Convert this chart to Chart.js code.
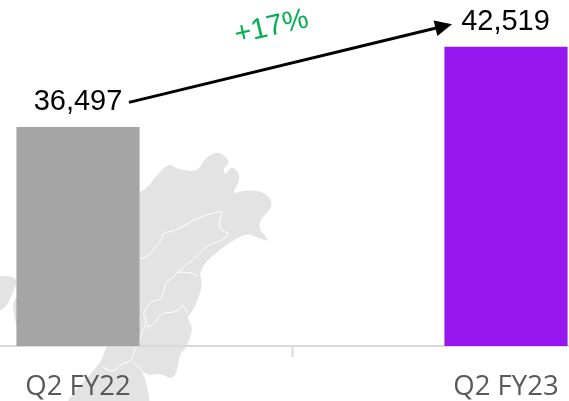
<!DOCTYPE html>
<html>
<head>
<meta charset="utf-8">
<title>Q2 FY22 vs Q2 FY23</title>
<script src="https://cdn.jsdelivr.net/npm/chart.js@4"></script>
<style>
  html, body { margin: 0; padding: 0; background: #fff; }
  #wrap { position: relative; width: 569px; height: 401px; overflow: hidden; }
  /* the plot is wider and taller than the window, the bars sit near its edges */
  #myChart { position: absolute; left: -136px; top: 0; }
</style>
</head>
<body>
<div id="wrap"><canvas id="myChart" width="856" height="418"></canvas></div>
<script>
const categories = ['Q2 FY22', 'Q2 FY23'];
const values = [36497, 42519];
const barColors = ['#a5a5a5', '#9617f0'];
const growthLabel = '+17%';
const canvasShift = 136;

// background map, only decoration behind the bars (window pixels)
const mapShapes = [
  [[120,190],[139,194],[150,185],[155,177],[169,163],[177,169],[198,172],[203,160],[218,150],[231,162],[223,168],[225,176],[232,165],[242,177],[231,195],[243,190],[264,191],[275,205],[255,225],[271,242],[258,238],[247,233],[230,242],[207,260],[199,273],[203,285],[193,312],[186,317],[194,328],[185,350],[180,353],[175,381],[160,373],[148,376],[135,367],[145,373],[153,420],[60,420],[68,398],[102,362],[105,347],[120,340]],
  [[-12,276],[19,276],[13,293],[5,310],[-12,312]],
  [[19,296],[12,302],[15,320],[19,335]]
];
const mapLines = [
  [[139,259],[148,257],[155,247],[162,240],[163,232],[173,232],[197,218],[220,211],[223,213],[218,223],[222,232],[228,232],[228,236],[220,242],[210,243],[187,265],[177,272],[173,278],[169,280],[165,283],[162,300],[153,300],[142,313],[147,320],[145,327],[140,337],[139,346]],
  [[177,272],[192,272],[198,277]],
  [[147,327],[155,325],[160,313],[178,312],[182,305],[185,307],[187,313]],
  [[135,347],[133,362],[123,362],[113,373],[103,367]],
  [[133,362],[145,373]]
];

// rounds the corners a little, the map has no straight edges
function tracePath(ctx, pts, closed) {
  ctx.beginPath();
  const n = pts.length;
  if (closed) {
    ctx.moveTo((pts[n - 1][0] + pts[0][0]) / 2, (pts[n - 1][1] + pts[0][1]) / 2);
    pts.forEach((p, i) => {
      const q = pts[(i + 1) % n];
      ctx.quadraticCurveTo(p[0], p[1], (p[0] + q[0]) / 2, (p[1] + q[1]) / 2);
    });
    ctx.closePath();
  } else {
    ctx.moveTo(pts[0][0], pts[0][1]);
    for (let i = 1; i < n - 1; i++) {
      ctx.quadraticCurveTo(pts[i][0], pts[i][1], (pts[i][0] + pts[i + 1][0]) / 2, (pts[i][1] + pts[i + 1][1]) / 2);
    }
    ctx.lineTo(pts[n - 1][0], pts[n - 1][1]);
  }
}

const mapPlugin = {
  id: 'mapBackground',
  beforeDraw(chart) {
    const ctx = chart.ctx;
    ctx.save();
    ctx.translate(canvasShift, 0);
    ctx.fillStyle = '#e3e3e3';
    mapShapes.forEach(s => { tracePath(ctx, s, true); ctx.fill(); });
    ctx.strokeStyle = '#ffffff';
    ctx.lineWidth = 1;
    ctx.lineJoin = 'round';
    mapLines.forEach(l => { tracePath(ctx, l, false); ctx.stroke(); });
    ctx.restore();
  }
};

const annotationPlugin = {
  id: 'annotations',
  afterDatasetsDraw(chart) {
    const ctx = chart.ctx;
    const bars = chart.getDatasetMeta(0).data;
    ctx.save();

    // value labels
    ctx.fillStyle = '#000';
    ctx.font = '29px "Liberation Sans"';
    ctx.textAlign = 'center';
    ctx.textBaseline = 'alphabetic';
    bars.forEach((bar, i) => {
      ctx.fillText(values[i].toLocaleString('en-US'), bar.x - (i ? 0.5 : 0), bar.y - 17);
    });

    // growth arrow
    const x1 = bars[0].x + 51, y1 = bars[0].y - 25;
    const x2 = bars[1].x - 54, y2 = bars[1].y - 23;
    const angle = Math.atan2(y2 - y1, x2 - x1);
    ctx.strokeStyle = '#000';
    ctx.lineWidth = 3;
    ctx.beginPath();
    ctx.moveTo(x1, y1);
    ctx.lineTo(x2 - 12 * Math.cos(angle), y2 - 12 * Math.sin(angle));
    ctx.stroke();
    ctx.translate(x2, y2);
    ctx.rotate(angle);
    ctx.beginPath();
    ctx.moveTo(0, 0);
    ctx.lineTo(-17, -8);
    ctx.lineTo(-17, 8);
    ctx.closePath();
    ctx.fillStyle = '#000';
    ctx.fill();
    ctx.restore();

    // growth label
    ctx.save();
    ctx.translate((x1 + x2) / 2 - 19, (y1 + y2) / 2 - 36);
    ctx.rotate(-13 * Math.PI / 180);
    ctx.fillStyle = '#00b050';
    ctx.font = '29px "Liberation Sans"';
    ctx.textAlign = 'center';
    ctx.textBaseline = 'middle';
    ctx.fillText(growthLabel, 0, 0);
    ctx.restore();
  }
};

document.addEventListener('DOMContentLoaded', function() {
  const ctx = document.getElementById('myChart').getContext('2d');
  new Chart(ctx, {
    type: 'bar',
    data: {
      labels: categories,
      datasets: [{
        data: values,
        backgroundColor: barColors,
        borderWidth: 0,
        barThickness: 122.5
      }]
    },
    plugins: [mapPlugin, annotationPlugin],
    options: {
      responsive: false,
      animation: false,
      plugins: {
        legend: { display: false },
        title: { display: false },
        tooltip: { enabled: false }
      },
      scales: {
        x: {
          grid: { drawOnChartArea: false, drawTicks: true, tickLength: 11, tickWidth: 2, color: '#d9d9d9' },
          border: { color: '#d9d9d9', width: 2 },
          ticks: {
            autoSkip: false,
            maxRotation: 0,
            padding: 14,
            color: '#595959',
            font: { family: '"Open Sans"', size: 27.5 }
          }
        },
        y: {
          display: false,
          min: 20090,
          max: 46060
        }
      }
    }
  });
});
</script>
</body>
</html>
